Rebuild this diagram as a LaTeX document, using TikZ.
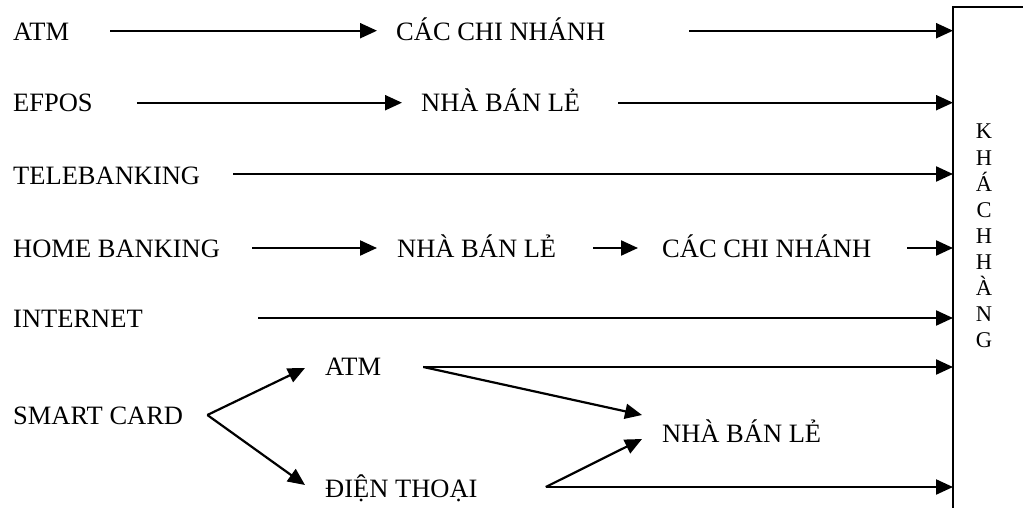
\documentclass[tikz,border=0pt]{standalone}
\usepackage{fontspec}
\setmainfont{Liberation Serif}
\usetikzlibrary{arrows.meta}
\begin{document}
\begin{tikzpicture}[x=1pt,y=-1pt,
  lbl/.style={anchor=base west, inner sep=0pt, font=\fontsize{26.5}{30}\selectfont},
  kl/.style={anchor=base, inner sep=0pt, font=\fontsize{22.5}{26}\selectfont},
  arr/.style={line width=2.2pt, -{Triangle[length=17pt,width=15pt]}},
  ln/.style={line width=2.2pt}]
\useasboundingbox (0,0) rectangle (1023,508);
% customer box
\coordinate (box) at (953,7);
\draw[ln] (1023,7) -- (box) -- (953,510);
\foreach \l [count=\i] in {K,H,Á,C,H,H,À,N,G}
  \node[kl] (k\i) at (984,{139+26*(\i-1)}) {\l};
% labels
\node[lbl] (atm1) at (13,40.7) {ATM};
\node[lbl] (cn1) at (396,40.7) {CÁC CHI NHÁNH};
\node[lbl] (efpos) at (13,112) {EFPOS};
\node[lbl] (nbl1) at (421,112) {NHÀ BÁN LẺ};
\node[lbl] (tele) at (13,184) {TELEBANKING};
\node[lbl] (home) at (13,257) {HOME BANKING};
\node[lbl] (nbl2) at (397,257) {NHÀ BÁN LẺ};
\node[lbl] (cn2) at (662,257) {CÁC CHI NHÁNH};
\node[lbl] (inet) at (13,327) {INTERNET};
\node[lbl] (atm2) at (325,375) {ATM};
\node[lbl] (smart) at (13,424) {SMART CARD};
\node[lbl] (nbl3) at (662,442) {NHÀ BÁN LẺ};
\node[lbl] (dt) at (325,497) {ĐIỆN THOẠI};
% row 1
\draw[arr] ([xshift=41pt,yshift=10pt]atm1.base east) -- ([xshift=-19pt,yshift=10pt]cn1.base west);
\coordinate (s1) at ([xshift=84pt,yshift=10pt]cn1.base east);
\draw[arr] (s1) -- (s1 -| box);
% row 2
\draw[arr] ([xshift=44pt,yshift=9.3pt]efpos.base east) -- ([xshift=-19pt,yshift=9.3pt]nbl1.base west);
\coordinate (s2) at ([xshift=38pt,yshift=9.3pt]nbl1.base east);
\draw[arr] (s2) -- (s2 -| box);
% row 3
\coordinate (s3) at ([xshift=33pt,yshift=10pt]tele.base east);
\draw[arr] (s3) -- (s3 -| box);
% row 4
\draw[arr] ([xshift=32pt,yshift=9pt]home.base east) -- ([xshift=-20pt,yshift=9pt]nbl2.base west);
\draw[arr] ([xshift=37pt,yshift=9pt]nbl2.base east) -- ([xshift=-24pt,yshift=9pt]cn2.base west);
\coordinate (s4) at ([xshift=36pt,yshift=9pt]cn2.base east);
\draw[arr] (s4) -- (s4 -| box);
% row 5
\coordinate (s5) at ([xshift=115.5pt,yshift=9pt]inet.base east);
\draw[arr] (s5) -- (s5 -| box);
% smart card
\coordinate (v) at ([xshift=24pt,yshift=9pt]smart.base east);
\draw[arr] (v) -- ([xshift=-20pt,yshift=7pt]atm2.base west);
\draw[arr] (v) -- ([xshift=-20pt,yshift=12pt]dt.base west);
\coordinate (s6) at ([xshift=42pt,yshift=8pt]atm2.base east);
\draw[arr] (s6) -- (s6 -| box);
\draw[arr] (s6) -- ([xshift=-20pt,yshift=27pt]nbl3.base west);
\coordinate (s7) at ([xshift=68pt,yshift=10pt]dt.base east);
\draw[arr] (s7) -- (s7 -| box);
\draw[arr] (s7) -- ([xshift=-20pt,yshift=3pt]nbl3.base west);
\end{tikzpicture}
\end{document}
